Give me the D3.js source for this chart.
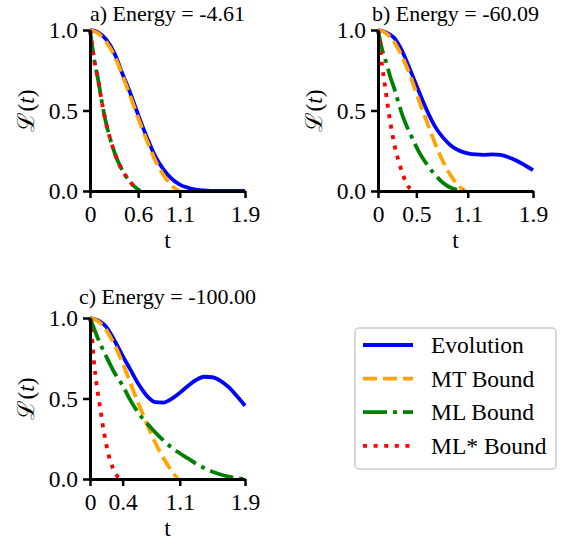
<!DOCTYPE html>
<html>
    <head>
        <title>Loschmidt echo bounds</title>
        <meta charset="UTF-8">
        <style type="text/css">
            body{ margin: 0; background: #fff; }
            .curve{ fill: none; stroke-linecap: butt; }
            .axis path, .axis line{ stroke: #000; }
            .axis path{ stroke-width: 3px; }
            .axis line{ stroke-width: 2.5px; }
        </style>
        <script src="https://d3js.org/d3.v7.min.js"></script>
    </head>
    <body>
        <svg width="574" height="545"></svg>

        <script type="text/javascript">
            // ---- data ----
            var titles = ["a) Energy = -4.61", "b) Energy = -60.09", "c) Energy = -100.00"];

            var tFull = [0,0.1,0.2,0.3,0.4,0.5,0.6,0.7,0.8,0.9,1.0,1.1,1.2,1.3,1.4,1.5,1.6,1.7,1.8,1.9];

            // panel a
            var evoA  = [1,0.985,0.94,0.855,0.725,0.6,0.46,0.33,0.215,0.135,0.077,0.04,0.02,0.008,0.003,0.001,0,0,0,0];
            var tMtA  = [0,0.1,0.2,0.3,0.4,0.5,0.6,0.7,0.8,0.9,1.0,1.09];
            var mtA   = [1,0.98,0.925,0.84,0.715,0.58,0.44,0.31,0.19,0.1,0.035,0];
            var tMlA  = [0,0.05,0.1,0.15,0.2,0.25,0.3,0.35,0.4,0.45,0.5,0.55,0.6,0.62];
            var mlA   = [1,0.82,0.69,0.54,0.415,0.32,0.24,0.175,0.126,0.085,0.052,0.025,0.005,0];
            var tMlsA = [0,0.05,0.1,0.15,0.2,0.25,0.3,0.35,0.4,0.45,0.5,0.55,0.58];
            var mlsA  = [1,0.82,0.69,0.54,0.415,0.32,0.24,0.175,0.126,0.085,0.052,0.02,0];

            // panel b
            var evoB  = [1,0.985,0.95,0.865,0.745,0.62,0.5,0.4,0.33,0.28,0.25,0.234,0.227,0.225,0.227,0.224,0.21,0.188,0.16,0.13];
            var tMtB  = [0,0.1,0.2,0.3,0.4,0.5,0.6,0.7,0.8,0.9,1.0,1.07];
            var mtB   = [1,0.98,0.925,0.83,0.71,0.565,0.43,0.295,0.18,0.09,0.025,0];
            var tMlB  = [0,0.05,0.1,0.15,0.2,0.25,0.3,0.35,0.4,0.45,0.5,0.6,0.7,0.8,0.9,1.0,1.05];
            var mlB   = [1,0.88,0.8,0.71,0.635,0.55,0.47,0.405,0.35,0.295,0.245,0.165,0.1,0.05,0.018,0.004,0];
            var tMlsB = [0,0.025,0.05,0.075,0.1,0.125,0.15,0.2,0.25,0.3,0.35,0.4,0.44];
            var mlsB  = [1,0.9,0.78,0.69,0.6,0.51,0.43,0.29,0.19,0.11,0.045,0.012,0];

            // panel c
            var evoC  = [1,0.985,0.945,0.86,0.765,0.675,0.585,0.515,0.478,0.475,0.497,0.535,0.578,0.615,0.635,0.632,0.61,0.57,0.515,0.455];
            var tMtC  = [0,0.1,0.2,0.3,0.4,0.5,0.6,0.7,0.8,0.9,1.0,1.08];
            var mtC   = [1,0.98,0.925,0.835,0.72,0.59,0.46,0.34,0.225,0.13,0.05,0];
            var mlC   = [1,0.87,0.76,0.66,0.58,0.485,0.405,0.345,0.29,0.24,0.195,0.16,0.128,0.095,0.068,0.045,0.028,0.015,0.005,0];
            var tMlsC = [0,0.025,0.05,0.075,0.1,0.125,0.15,0.175,0.2,0.225,0.25,0.275,0.3,0.325,0.35,0.37];
            var mlsC  = [1,0.88,0.72,0.61,0.52,0.44,0.355,0.28,0.215,0.155,0.11,0.075,0.048,0.025,0.008,0];

            var xTicksA = [0,0.59,1.1,1.9], xLabelsA = ["0","0.6","1.1","1.9"];
            var xTicksB = [0,0.47,1.1,1.9], xLabelsB = ["0","0.5","1.1","1.9"];
            var xTicksC = [0,0.4,1.1,1.9],  xLabelsC = ["0","0.4","1.1","1.9"];
            var yTicks = [0,0.5,1.0];

            var legendNames = ["Evolution","MT Bound","ML Bound","ML* Bound"];

            // ---- styles ----
            var serif = "'Liberation Serif'",
                fs = 23.5,
                titleFs = 22;
            var styles = [
                {color: "#0000ff", dash: null,         width: 3.8},
                {color: "#ffa500", dash: "14,6",       width: 3.8},
                {color: "#008000", dash: "24,6,4,6",   width: 3.8},
                {color: "#ff0000", dash: "4,6.6",      width: 3.8}
            ];

            var svg = d3.select("svg"),
                pw = 155, ph = 161;

            var panels = [
                {left: 90,  top: 30,  title: titles[0], titleY: 21,  ticks: xTicksA, labels: xLabelsA,
                 series: [[tFull, evoA], [tMtA, mtA], [tMlA, mlA], [tMlsA, mlsA]]},
                {left: 378, top: 30,  title: titles[1], titleY: 21,  ticks: xTicksB, labels: xLabelsB,
                 series: [[tFull, evoB], [tMtB, mtB], [tMlB, mlB], [tMlsB, mlsB]]},
                {left: 90,  top: 318, title: titles[2], titleY: 304, ticks: xTicksC, labels: xLabelsC,
                 series: [[tFull, evoC], [tMtC, mtC], [tFull, mlC], [tMlsC, mlsC]]}
            ];

            panels.forEach(function(p){
                var x = d3.scaleLinear().domain([0, 1.9]).range([0, pw]),
                    y = d3.scaleLinear().domain([0, 1]).range([ph, 0]);

                var g = svg.append("g")
                    .attr("transform", `translate(${p.left},${p.top})`);

                var line = d3.line()
                    .curve(d3.curveMonotoneX)
                    .x(function(d){ return x(d[0]); })
                    .y(function(d){ return y(d[1]); });

                p.series.forEach(function(s, i){
                    var pts = s[0].map(function(t, k){ return [t, s[1][k]]; });
                    g.append("path")
                        .datum(pts)
                        .attr("class", "curve")
                        .attr("stroke", styles[i].color)
                        .attr("stroke-width", styles[i].width)
                        .attr("stroke-dasharray", styles[i].dash)
                        .attr("d", line);
                });

                var xAxis = d3.axisBottom(x)
                    .tickValues(p.ticks)
                    .tickFormat(function(d, i){ return p.labels[i]; })
                    .tickSizeInner(7).tickSizeOuter(0).tickPadding(7);

                var yAxis = d3.axisLeft(y)
                    .tickValues(yTicks)
                    .tickFormat(d3.format(".1f"))
                    .tickSizeInner(7).tickSizeOuter(0).tickPadding(5);

                g.append("g")
                    .attr("class", "axis axis--x")
                    .attr("transform", `translate(0,${ph})`)
                    .call(xAxis);

                g.append("g")
                    .attr("class", "axis axis--y")
                    .call(yAxis);

                g.selectAll(".axis")
                    .attr("font-size", fs);

                svg.append("text")
                    .attr("x", p.left + pw / 2)
                    .attr("y", p.titleY)
                    .attr("text-anchor", "middle")
                    .attr("font-size", titleFs)
                    .text(p.title);

                svg.append("text")
                    .attr("x", p.left + pw / 2)
                    .attr("y", p.top + ph + 57)
                    .attr("text-anchor", "middle")
                    .attr("font-size", fs)
                    .text("t");

                var yl = svg.append("text")
                    .attr("transform", `translate(${p.left - 56},${p.top + ph / 2}) rotate(-90)`)
                    .attr("text-anchor", "middle")
                    .attr("font-size", fs);
                yl.append("tspan").text("\u2112(");
                yl.append("tspan").attr("font-style", "italic").text("t");
                yl.append("tspan").text(")");
            });

            // ---- legend ----
            var legend = svg.append("g").attr("transform", "translate(355,328)");

            legend.append("rect")
                .attr("width", 201)
                .attr("height", 141)
                .attr("rx", 4)
                .attr("fill", "#fff")
                .attr("stroke", "#cccccc")
                .attr("stroke-width", 1.5);

            legendNames.forEach(function(name, i){
                var cy = 17 + i * 33.6;
                legend.append("line")
                    .attr("x1", 8).attr("x2", 58)
                    .attr("y1", cy).attr("y2", cy)
                    .attr("stroke", styles[i].color)
                    .attr("stroke-width", styles[i].width)
                    .attr("stroke-dasharray", styles[i].dash);
                legend.append("text")
                    .attr("x", 76)
                    .attr("y", cy + 8)
                    .attr("font-size", fs)
                    .text(name);
            });

            svg.selectAll("text")
                .style("font-family", serif)
                .style("fill", "#000");
        </script>
    </body>
</html>
